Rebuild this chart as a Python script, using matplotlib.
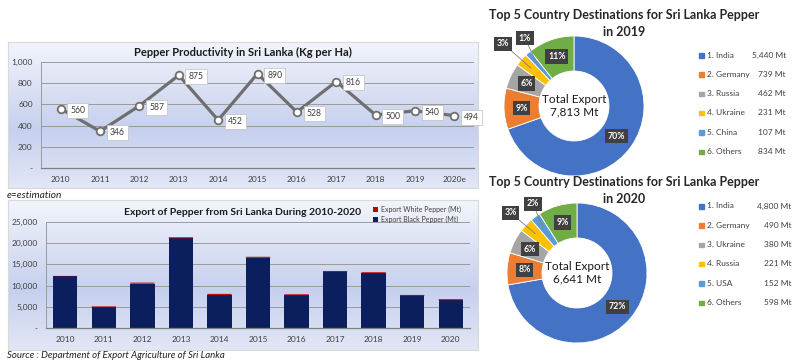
import numpy as np
import matplotlib
matplotlib.use("Agg")
import matplotlib.pyplot as plt
from matplotlib.colors import LinearSegmentedColormap
from matplotlib.ticker import FuncFormatter, FixedLocator
from matplotlib.patches import Rectangle

plt.rcParams['font.family'] = ['Lato', 'DejaVu Sans']

# --- data -------------------------------------------------------------
prod_years = ['2010', '2011', '2012', '2013', '2014', '2015', '2016',
              '2017', '2018', '2019', '2020e']
productivity = [560, 346, 587, 875, 452, 890, 528, 816, 500, 540, 494]

exp_years = ['2010', '2011', '2012', '2013', '2014', '2015', '2016',
             '2017', '2018', '2019', '2020']
black_pepper = [12200, 4850, 10450, 21150, 7800, 16550, 7700, 13200, 12900, 7550, 6550]
white_pepper = [80, 250, 250, 250, 250, 250, 250, 250, 250, 250, 250]

dest19_names = ['1. India', '2. Germany', '3. Russia', '4. Ukraine', '5. China', '6. Others']
dest19_vals = [5440, 739, 462, 231, 107, 834]
dest19_pct = ['70%', '9%', '6%', '3%', '1%', '11%']
dest20_names = ['1. India', '2. Germany', '3. Ukraine', '4. Russia', '5. USA', '6. Others']
dest20_vals = [4800, 490, 380, 221, 152, 598]
dest20_pct = ['72%', '8%', '6%', '3%', '2%', '9%']

pie_colors = ['#4472C4', '#ED7D31', '#A5A5A5', '#FFC000', '#5B9BD5', '#70AD47']

W, H = 800, 364
fig = plt.figure(figsize=(W / 100, H / 100), dpi=100)
fig.patch.set_facecolor('white')


def rect(x0, y0, x1, y1):
    return [x0 / W, 1 - y1 / H, (x1 - x0) / W, (y1 - y0) / H]


def fx(x):
    return x / W


def fy(y):
    return 1 - y / H


grad = LinearSegmentedColormap.from_list(
    'panel', [(0, '#f3f5fc'), (0.6, '#c6d0ee'), (1, '#e2e7f6')])


def panel(x0, y0, x1, y1):
    bg = fig.add_axes(rect(x0, y0, x1, y1), zorder=0)
    bg.imshow(np.linspace(0, 1, 200)[:, None], cmap=grad, aspect='auto',
              extent=[0, 1, 0, 1])
    bg.set_xticks([])
    bg.set_yticks([])
    for s in bg.spines.values():
        s.set_color('#d9d9d9')
        s.set_linewidth(0.8)


def style_axes(ax, ymax, step, fmt):
    ax.set_facecolor('none')
    ax.set_ylim(0, ymax)
    ax.set_xlim(-0.5, 10.5)
    ax.yaxis.set_major_locator(FixedLocator(np.arange(0, ymax + 1, step)))
    ax.yaxis.set_major_formatter(FuncFormatter(fmt))
    ax.grid(axis='y', color='#9a9a9a', lw=0.7)
    ax.set_axisbelow(True)
    for s in ['top', 'right']:
        ax.spines[s].set_visible(False)
    ax.spines['left'].set_color('#9a9a9a')
    ax.spines['left'].set_linewidth(0.7)
    ax.spines['bottom'].set_color('#7f7f7f')
    ax.spines['bottom'].set_linewidth(0.9)
    ax.tick_params(length=0, labelsize=6, colors='#404040', pad=6)


def thousands(v, p):
    return '-' if v == 0 else f'{int(v):,}'


# --- productivity line chart -----------------------------------------
panel(8, 42, 478, 188)
ax1 = fig.add_axes(rect(41, 62, 474, 168), zorder=1)
style_axes(ax1, 1000, 200, thousands)
x = np.arange(len(prod_years))
ax1.plot(x, productivity, color='#6f6f6f', lw=2.3, marker='o', ms=5.5,
         mfc='white', mec='#6f6f6f', mew=1.3, zorder=3)
ax1.set_xticks(x)
ax1.set_xticklabels(prod_years)
for xi, v in zip(x, productivity):
    ax1.annotate(str(v), (xi, v), xytext=(7, -1), textcoords='offset points',
                 ha='left', va='center', fontsize=6.2, color='#404040',
                 bbox=dict(boxstyle='square,pad=0.35', fc='white', ec='#bfbfbf', lw=0.5),
                 zorder=4)
fig.text(fx(243), fy(52), 'Pepper Productivity in Sri Lanka (Kg per Ha)',
         ha='center', va='center', fontsize=8, fontweight='bold', color='#1a1a1a')
fig.text(fx(7), fy(195), 'e=estimation', ha='left', va='center', fontsize=7.3,
         style='italic', color='#202020')

# --- export bar chart -------------------------------------------------
panel(8, 200, 478, 350)
ax2 = fig.add_axes(rect(46, 222, 470, 328), zorder=1)
style_axes(ax2, 25000, 5000, thousands)
x2 = np.arange(len(exp_years))
ax2.bar(x2, black_pepper, width=0.63, color='#0b1f5e', label='Export Black Pepper (Mt)', zorder=2)
ax2.bar(x2, white_pepper, width=0.63, bottom=black_pepper, color='#c00000',
        label='Export White Pepper (Mt)', zorder=2, snap=False)
ax2.set_xticks(x2)
ax2.set_xticklabels(exp_years)
fig.text(fx(243), fy(212), 'Export of Pepper from Sri Lanka During 2010-2020',
         ha='center', va='center', fontsize=7.5, fontweight='bold', color='#1a1a1a')
handles, labels = ax2.get_legend_handles_labels()
leg = fig.legend(handles[::-1], labels[::-1], loc='upper left',
                 bbox_to_anchor=(fx(368), fy(201)), fontsize=5, frameon=False,
                 handlelength=0.7, handleheight=0.7, handletextpad=0.4,
                 labelspacing=0.35, borderpad=0.2)
for t in leg.get_texts():
    t.set_color('#404040')
fig.text(fx(7), fy(355), 'Source : Department of Export Agriculture of Sri Lanka',
         ha='left', va='center', fontsize=6.9, style='italic', color='#202020')


# --- donut charts -----------------------------------------------------
def donut(cx, cy, vals, names, pcts, year, total, small_pos, leg_y, val_x):
    r = 70
    ax = fig.add_axes(rect(cx - 1.25 * r, cy - 1.25 * r, cx + 1.25 * r, cy + 1.25 * r), zorder=2)
    wedges, _ = ax.pie(vals, colors=pie_colors, startangle=90, counterclock=False,
                       radius=1, wedgeprops=dict(width=0.5, edgecolor='white', linewidth=0.6))
    ax.set_xlim(-1.25, 1.25)
    ax.set_ylim(-1.25, 1.25)
    ax.set_aspect('equal')
    ax.axis('off')
    box = dict(boxstyle='square,pad=0.3', fc='#404040', ec='none')
    for i, (w, pct) in enumerate(zip(wedges, pcts)):
        ang = np.deg2rad((w.theta1 + w.theta2) / 2)
        mx, my = 0.75 * np.cos(ang), 0.75 * np.sin(ang)
        if i in small_pos:
            ax.annotate(pct, (0.82 * np.cos(ang), 0.82 * np.sin(ang)), xytext=small_pos[i],
                        ha='center', va='center', fontsize=6.3, fontweight='bold', color='white',
                        bbox=box, arrowprops=dict(arrowstyle='-', color='#7f7f7f', lw=0.6,
                                                  shrinkA=0, shrinkB=0))
        else:
            ax.text(mx, my, pct, ha='center', va='center', fontsize=6.3,
                    fontweight='bold', color='white', bbox=box)
    ax.text(0, 0, f'Total Export\n{total:,} Mt', ha='center', va='center',
            fontsize=8.5, color='#1a1a1a', linespacing=1.15)
    fig.text(fx(624), fy(cy - 91), 'Top 5 Country Destinations for Sri Lanka Pepper',
             ha='center', va='center', fontsize=9, fontweight='bold', color='#262626')
    fig.text(fx(624), fy(cy - 74), f'in {year}', ha='center', va='center',
             fontsize=9, fontweight='bold', color='#262626')
    for i, (n, v) in enumerate(zip(names, vals)):
        yy = leg_y + i * 19.3
        fig.add_artist(Rectangle((fx(699), fy(yy + 2.5)), 4.5 / W, 4.5 / H,
                                 transform=fig.transFigure, color=pie_colors[i]))
        fig.text(fx(707), fy(yy), n, ha='left', va='center', fontsize=6.0, color='#404040')
        fig.text(fx(val_x), fy(yy), f'{v:,} Mt', ha='right', va='center',
                 fontsize=6.0, color='#404040')


donut(574, 106, dest19_vals, dest19_names, dest19_pct, 2019, 7813,
      {3: (-1.01, 0.89), 4: (-0.70, 0.97)}, 55, 786)
donut(577, 273, dest20_vals, dest20_names, dest20_pct, 2020, 6641,
      {3: (-0.95, 0.86), 4: (-0.63, 0.99)}, 206, 791)

fig.savefig('out.png', dpi=100)
